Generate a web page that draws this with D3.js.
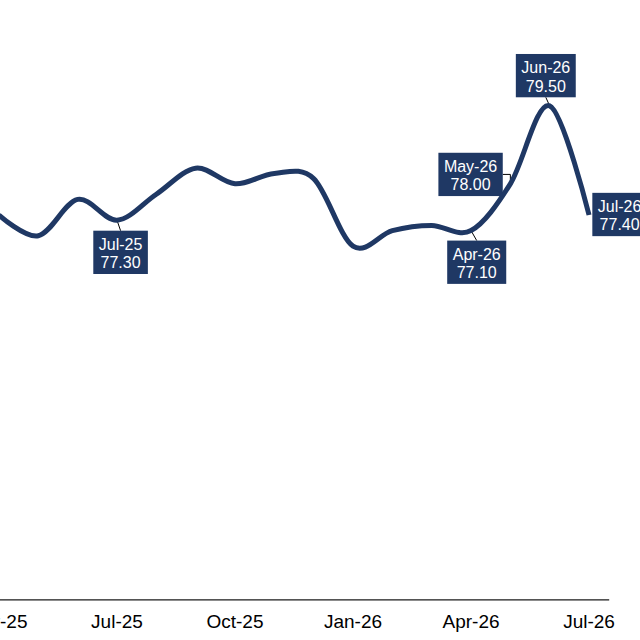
<!DOCTYPE html>
<html>
<head>
<meta charset="utf-8">
<script src="https://cdn.jsdelivr.net/npm/d3@7"></script>
<style>
  html, body { margin: 0; padding: 0; background: #fff; }
  svg { display: block; }
  text { font-family: "Liberation Sans", Arial, sans-serif; }
</style>
</head>
<body>
<svg id="chart" width="640" height="640"></svg>
<script>
// ---- data ----
const months = ["Apr-25","May-25","Jun-25","Jul-25","Aug-25","Sep-25","Oct-25","Nov-25",
                "Dec-25","Jan-26","Feb-26","Mar-26","Apr-26","May-26","Jun-26","Jul-26"];
const values = [77.4, 77.0, 77.7, 77.3, 77.8, 78.3, 78.0, 78.2,
                78.1, 76.8, 77.1, 77.2, 77.1, 78.0, 79.5, 77.4];
const tickLabels = ["Apr-25","Jul-25","Oct-25","Jan-26","Apr-26","Jul-26"];
const calloutMonths = ["Jul-25","Apr-26","May-26","Jun-26","Jul-26"];
const yDomain = [70, 80];

// ---- layout ----
const W = 640, H = 640;
const axisY = 599.3;
const navy = "#1f3864";
const svg = d3.select("#chart");

const x = d3.scaleBand().domain(months).range([-20.7, 608.7]).paddingInner(0).paddingOuter(0);
const cx = m => x(m) + x.bandwidth() / 2;
const y = d3.scaleLinear().domain(yDomain).range([599.5, 79.9]);

const data = months.map((m, i) => ({ m, v: values[i] }));

// axis
const axis = d3.axisBottom(x).tickValues(tickLabels).tickSize(0).tickSizeOuter(0).tickPadding(15.5);
const gAxis = svg.append("g").attr("transform", `translate(0,${axisY})`).call(axis);
gAxis.select(".domain").attr("stroke", "#1a1a1a").attr("stroke-width", 1.3);
gAxis.selectAll(".tick text")
  .attr("font-family", "'Liberation Sans', Arial, sans-serif")
  .attr("font-size", 19).attr("fill", "#000");

// callout layout (relative to point)
const calloutLayout = {
  "Jul-25": { type: "below", dx: 3.6, dy: 10.5 },
  "Apr-26": { type: "below", dx: 5.7, dy: 10.0 },
  "May-26": { type: "left",  dx: -7.6, dy: -9.4 },
  "Jun-26": { type: "above", dx: -3.9, dy: -8.6 },
  "Jul-26": { type: "right", dx: 3.3, dy: -0.5 }
};

const gConn = svg.append("g");
// line
const line = d3.line().x(d => cx(d.m)).y(d => y(d.v)).curve(d3.curveCardinal.tension(0));
svg.append("path").datum(data)
  .attr("d", line).attr("fill", "none").attr("stroke", navy)
  .attr("stroke-width", 5).attr("stroke-linecap", "butt").attr("stroke-linejoin", "round");

const gLabels = svg.append("g");
const boxH = 43.3, padX = 5.5;
calloutMonths.forEach(m => {
  const i = months.indexOf(m);
  const px = cx(m), py = y(values[i]);
  const L = calloutLayout[m];
  const g = gLabels.append("g");
  const rect = g.append("rect").attr("fill", navy);
  const t1 = g.append("text").text(m).attr("font-size", 16).attr("fill", "#fff").attr("text-anchor", "middle");
  const t2 = g.append("text").text(values[i].toFixed(2)).attr("font-size", 16).attr("fill", "#fff").attr("text-anchor", "middle");
  const tw = Math.max(t1.node().getComputedTextLength(), t2.node().getComputedTextLength());
  const bw = tw + 2 * padX;
  let bx, by;
  if (L.type === "below") { bx = px + L.dx - bw / 2; by = py + L.dy; }
  else if (L.type === "above") { bx = px + L.dx - bw / 2; by = py + L.dy - boxH; }
  else if (L.type === "left") { bx = px + L.dx - bw; by = py + L.dy - boxH / 2; }
  else { bx = px + L.dx; by = py + L.dy - boxH / 2; }
  rect.attr("x", bx).attr("y", by).attr("width", bw).attr("height", boxH);
  t1.attr("x", bx + bw / 2).attr("y", by + 19.3);
  t2.attr("x", bx + bw / 2).attr("y", by + 37.6);
  // connectors
  if (L.type === "below") {
    gConn.append("line").attr("x1", px).attr("y1", py).attr("x2", bx + bw / 2).attr("y2", by)
      .attr("stroke", "#000").attr("stroke-width", 1);
  } else if (L.type === "above") {
    gConn.append("line").attr("x1", px).attr("y1", py).attr("x2", bx + bw / 2).attr("y2", by + boxH)
      .attr("stroke", "#000").attr("stroke-width", 1);
  } else if (L.type === "left") {
    gConn.append("path").attr("d", `M${bx + bw},${by + boxH / 2}H${px}V${py}`)
      .attr("fill", "none").attr("stroke", "#000").attr("stroke-width", 1);
  }
});
</script>
</body>
</html>
